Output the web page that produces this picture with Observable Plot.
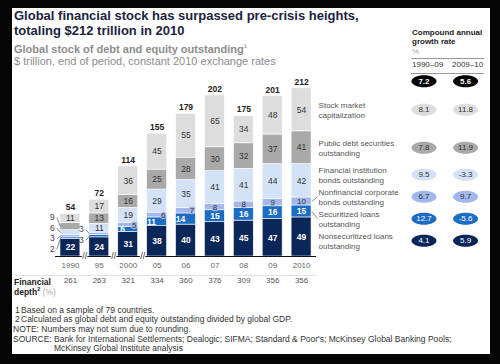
<!DOCTYPE html>
<html><head><meta charset="utf-8">
<script src="https://cdn.jsdelivr.net/npm/d3@7"></script>
<script src="https://cdn.jsdelivr.net/npm/@observablehq/plot@0.6"></script>
<style>
html,body{margin:0;padding:0;background:#050505;width:500px;height:364px;overflow:hidden;font-family:"Liberation Sans",Arial,sans-serif;}
#panel{position:absolute;left:12px;top:8px;width:478px;height:346px;background:#fff;overflow:hidden;}
#chart{position:absolute;left:-12px;top:-8px;width:500px;height:300px;}
#chart svg{max-width:none !important;width:500px;height:300px;}
.t{position:absolute;white-space:nowrap;}
.hl{position:absolute;height:1px;}
sup{line-height:0;}
</style></head><body>
<div id="panel">
  <div id="chart"></div>
  <div class="t" style="left:2px;top:1.2px;font-size:13px;line-height:14.5px;font-weight:bold;color:#1c2340;">Global financial stock has surpassed pre-crisis heights,<br>totaling $212 trillion in 2010</div>
  <div class="t" style="left:2px;top:36px;font-size:11px;line-height:11px;font-weight:bold;color:#8c8c8c;">Global stock of debt and equity outstanding<span style="font-size:6px;font-weight:normal;vertical-align:5px;line-height:0;">1</span></div>
  <div class="t" style="left:2px;top:47.5px;font-size:11px;line-height:11px;color:#8c8c8c;">$ trillion, end of period, constant 2010 exchange rates</div>

  <div class="t" style="left:400px;top:19.8px;font-size:8px;line-height:9.6px;font-weight:bold;color:#222;">Compound annual<br>growth rate<br><span style="color:#aaa;font-weight:normal;">%</span></div>
  <div class="hl" style="left:399px;top:50px;width:73px;background:#999;"></div>
  <div class="t" id="p1" style="left:400px;top:52px;font-size:8px;line-height:10px;color:#333;"></div>
  <div class="t" id="p2" style="left:440px;top:52px;font-size:8px;line-height:10px;color:#333;"></div>
  <div class="hl" style="left:399px;top:64.5px;width:73px;background:#999;"></div>

  <div class="hl" style="left:2px;top:267px;width:302px;background:#e2e2e2;"></div>
  <div class="t" style="left:2px;top:269.3px;font-size:8.5px;line-height:10px;font-weight:bold;color:#222;">Financial<br>depth<span style="font-size:5.5px;vertical-align:4px;line-height:0;">2</span> <span style="color:#aaa;font-weight:normal;">(%)</span></div>

  <div style="position:absolute;left:0;top:297.5px;font-size:8.5px;line-height:9.7px;color:#333;width:478px;">
    <div style="position:relative;height:9.7px;"><span class="t" style="left:3px;">1</span><span class="t" style="left:9px;">Based on a sample of 79 countries.</span></div>
    <div style="position:relative;height:9.7px;"><span class="t" style="left:3px;">2</span><span class="t" style="left:9px;">Calculated as global debt and equity outstanding divided by global GDP.</span></div>
    <div style="position:relative;height:9.7px;"><span class="t" style="left:1px;">NOTE: Numbers may not sum due to rounding.</span></div>
    <div style="position:relative;height:9.7px;"><span class="t" style="left:1px;">SOURCE:</span><span class="t" style="left:42px;">Bank for International Settlements; Dealogic; SIFMA; Standard &amp; Poor's; McKinsey Global Banking Pools;</span></div>
    <div style="position:relative;height:9.7px;"><span class="t" style="left:42px;">McKinsey Global Institute analysis</span></div>
  </div>
</div>
<script>
// ---- data ----
const years = ["1990","95","2000","05","06","07","08","09","2010"];
const seriesNames = ["Nonsecuritized loans\noutstanding","Securitized loans\noutstanding","Nonfinancial corporate\nbonds outstanding","Financial institution\nbonds outstanding","Public debt securities\noutstanding","Stock market\ncapitalization"];
const nonsecuritized = [22,24,31,38,40,43,45,47,49];
const securitized    = [2,3,6,11,14,15,16,16,15];
const nonfinancial   = [3,3,5,6,7,8,8,9,10];
const financialInst  = [6,11,19,29,35,41,41,44,42];
const publicDebt     = [9,13,16,25,28,30,32,37,41];
const stockMarket    = [11,17,36,45,55,65,34,48,54];
const totals         = [54,72,114,155,179,202,175,201,212];
const financialDepth = [261,263,321,334,360,376,309,356,356];
const periods = ["1990–09","2009–10"];
const growth1990_09 = [4.1,12.7,6.7,9.5,7.8,8.1];
const growth2009_10 = [5.9,-5.6,9.7,-3.3,11.9,11.8];
const totalGrowth = [7.2,5.6];
const colors = ["#0b2658","#1d6cc3","#a3b8ea","#d3e2f7","#a9a9a9","#dddddd"];

document.getElementById("p1").textContent = periods[0];
document.getElementById("p2").textContent = periods[1];

const seriesValues = [nonsecuritized,securitized,nonfinancial,financialInst,publicDebt,stockMarket];
const segs = [];
years.forEach((yr,i)=>{
  let acc = 0;
  seriesValues.forEach((vals,s)=>{
    const v = vals[i];
    segs.push({year:yr,i,s,value:v,y1:acc,y2:acc+v,mid:acc+v/2,color:colors[s],thinNf:nonfinancial[i]<8});
    acc += v;
  });
});
const tops = years.map((yr,i)=>({i,yr,total:totals[i],top:d3.sum(seriesValues,v=>v[i]),depth:financialDepth[i]}));

// labels outside tiny segments of the first two bars, fanned out
const isOut = d=>d.i<2 && d.value<10;
const outside = segs.filter(isOut);
d3.group(outside,d=>d.i).forEach(arr=>{
  const m = d3.mean(arr,d=>d.mid);
  arr.forEach((d,k)=>{ d.labelY = m + (k-(arr.length-1)/2)*13.4; });
});
const inside = segs.filter(d=>!isOut(d));

// right-hand legend rows, dodged so two-line labels don't collide
const last = years.length-1;
const rows = segs.filter(d=>d.i===last).map(d=>({...d,g:[growth1990_09[d.s],growth2009_10[d.s]],name:seriesNames[d.s],ly:d.mid}));
const minGap = 27.6;
for (let it=0; it<300; it++) {
  for (let k=0; k<rows.length-1; k++) {
    const a=rows[k], b=rows[k+1], gap=b.ly-a.ly;
    if (gap<minGap) { const s=(minGap-gap)/2; a.ly-=s; b.ly+=s; }
  }
}
const leaders = rows.filter(r=>r.value<20);
const ovals = [];
rows.forEach(r=>{ r.g.forEach((g,k)=>ovals.push({i:last,y:r.ly,k,g,color:r.color,dark:r.s<2})); });
const lastTop = tops[last].top;
const totalOvals = totalGrowth.map((g,k)=>({i:last,y:lastTop,k,g}));

const ellipse = {draw(ctx){const rx=12.5,ry=6,k=0.5523;
  ctx.moveTo(rx,0);
  ctx.bezierCurveTo(rx,ry*k,rx*k,ry,0,ry);
  ctx.bezierCurveTo(-rx*k,ry,-rx,ry*k,-rx,0);
  ctx.bezierCurveTo(-rx,-ry*k,-rx*k,-ry,0,-ry);
  ctx.bezierCurveTo(rx*k,-ry,rx,-ry*k,rx,0);
  ctx.closePath();}};
const colDx = [122.4,164];
const font = "Liberation Sans, Arial, sans-serif";

const ovalMarks = colDx.flatMap((dx,k)=>[
  Plot.dot(ovals.filter(d=>d.k===k),{x:"i",y:"y",dx,symbol:ellipse,fill:"color"}),
  Plot.text(ovals.filter(d=>d.k===k),{x:"i",y:"y",dx,text:d=>d.g.toFixed(1),fill:d=>d.dark?"white":"#333",fontWeight:d=>d.dark?"bold":"normal",fontSize:8}),
  Plot.dot(totalOvals.filter(d=>d.k===k),{x:"i",y:"y",dx,dy:-7,symbol:ellipse,fill:"#000"}),
  Plot.text(totalOvals.filter(d=>d.k===k),{x:"i",y:"y",dx,dy:-7,text:d=>d.g.toFixed(1),fill:"white",fontWeight:"bold",fontSize:8})
]);

const chart = Plot.plot({
  width:500, height:300,
  marginLeft:51, marginRight:180, marginTop:87, marginBottom:44,
  x:{domain:[-0.655,8.655],axis:null},
  y:{domain:[0,212],axis:null},
  color:{type:"identity"},
  style:{background:"transparent",fontFamily:font,overflow:"visible"},
  marks:[
    Plot.rect(segs,{x1:d=>d.i-0.345,x2:d=>d.i+0.345,y1:"y1",y2:"y2",fill:"color",stroke:"white",strokeWidth:0.6}),
    Plot.ruleY([0],{insetLeft:4,insetRight:4,stroke:"#111",strokeWidth:1.2}),
    Plot.text([0,1,2],{x:d=>d+0.5,y:0,text:()=>"//",fontSize:9,fill:"#333",stroke:"white",strokeWidth:2,paintOrder:"stroke"}),
    // inside labels
    Plot.text(inside.filter(d=>d.s===0),{x:"i",y:"mid",text:"value",fill:"white",fontWeight:"bold",fontSize:8.5}),
    Plot.text(inside.filter(d=>d.s===1 && !d.thinNf),{x:"i",y:"mid",text:"value",fill:"white",fontWeight:"bold",fontSize:8.5}),
    Plot.text(inside.filter(d=>d.s===1 && d.thinNf),{x:"i",y:"mid",text:"value",dx:-5.5,fill:"white",fontWeight:"bold",fontSize:8.5}),
    Plot.text(inside.filter(d=>d.s===2 && !d.thinNf),{x:"i",y:"mid",text:"value",fill:"#333",fontSize:8,stroke:colors[2],strokeWidth:2.5,paintOrder:"stroke"}),
    Plot.text(inside.filter(d=>d.s===2 && d.thinNf),{x:"i",y:"mid",text:"value",fill:"#333",fontSize:8,dx:6,stroke:colors[2],strokeWidth:2.5,paintOrder:"stroke"}),
    Plot.text(inside.filter(d=>d.s>=3),{x:"i",y:"mid",text:"value",fill:"#333",fontSize:8.5}),
    // outside labels with leaders
    Plot.link(outside,{x1:d=>d.i-0.47,y1:"labelY",x2:d=>d.i-0.345,y2:"mid",stroke:"#555",strokeWidth:0.7}),
    Plot.text(outside,{x:"i",y:"labelY",text:"value",dx:-18,fill:"#444",fontSize:8.5}),
    // totals
    Plot.text(tops,{x:"i",y:"top",text:"total",dy:-6.5,fontWeight:"bold",fill:"#222",fontSize:8.5}),
    // x labels & depth row
    Plot.text(tops,{x:"i",frameAnchor:"bottom",text:"yr",dy:11.3,fill:"#666",fontSize:8}),
    Plot.text(tops,{x:"i",frameAnchor:"bottom",text:"depth",dy:26.7,fill:"#555",fontSize:8}),
    // legend labels and leaders
    Plot.link(leaders,{x1:d=>d.i+0.36,y1:"mid",x2:d=>d.i+0.55,y2:"ly",stroke:"#555",strokeWidth:0.7}),
    Plot.text(rows,{x:"i",y:"ly",text:"name",dx:17,textAnchor:"start",lineHeight:1.2,fill:"#555",fontSize:8}),
    ...ovalMarks
  ]
});
document.getElementById("chart").appendChild(chart);
</script>
</body></html>
